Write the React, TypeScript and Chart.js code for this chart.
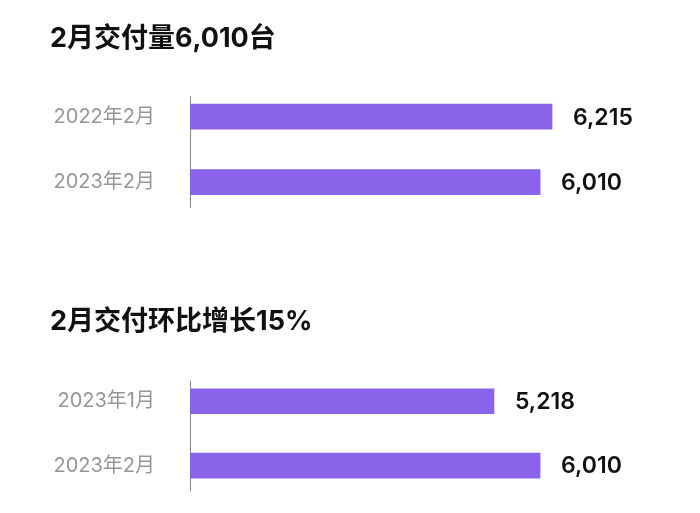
import { useEffect, useRef } from 'react';
import { Chart, registerables } from 'chart.js';

Chart.register(...registerables);

// chart 1: February deliveries, year over year
const deliveryTitle = '2月交付量6,010台';
const deliveryLabels = ['2022年2月', '2023年2月'];
const deliveryValues = [6215, 6010];

// chart 2: February deliveries, month over month
const momTitle = '2月交付环比增长15%';
const momLabels = ['2023年1月', '2023年2月'];
const momValues = [5218, 6010];

const FONT = "Inter, 'Noto Sans CJK SC', sans-serif";
const BAR_COLOR = '#8b62ea';

// draws the value to the right of each bar
const valueLabels = {
  id: 'valueLabels',
  afterDatasetsDraw(chart: any) {
    const { ctx } = chart;
    const meta = chart.getDatasetMeta(0);
    ctx.save();
    ctx.font = `600 23px ${FONT}`;
    ctx.fillStyle = '#111111';
    ctx.textAlign = 'left';
    ctx.textBaseline = 'middle';
    meta.data.forEach((bar: any, i: number) => {
      const v = chart.data.datasets[0].data[i].x as number;
      ctx.fillText(v.toLocaleString('en-US'), bar.x + 21, bar.y + 1);
    });
    ctx.restore();
  }
};

type Props = {
  title: string;
  labels: string[];
  values: number[];
  height: number;
  padTop: number;
  titleGap: number;
  padBottom: number;
};

function BarBlock({ title, labels, values, height, padTop, titleGap, padBottom }: Props) {
  const chartRef = useRef<HTMLCanvasElement>(null);
  const chartInstanceRef = useRef<Chart | null>(null);

  useEffect(() => {
    if (!chartRef.current) return;
    const ctx = chartRef.current.getContext('2d');
    if (!ctx) return;

    if (chartInstanceRef.current) {
      chartInstanceRef.current.destroy();
    }

    chartInstanceRef.current = new Chart(ctx, {
      type: 'bar',
      data: {
        datasets: [{
          data: values.map((v, i) => ({ x: v, y: i })),
          backgroundColor: BAR_COLOR,
          borderWidth: 0,
          barThickness: 25
        }]
      },
      options: {
        indexAxis: 'y',
        animation: false,
        responsive: true,
        maintainAspectRatio: false,
        layout: { padding: { top: padTop, left: 50, right: 44, bottom: padBottom } },
        plugins: {
          legend: { display: false },
          tooltip: { enabled: false },
          title: {
            display: true,
            text: title,
            align: 'start',
            color: '#111111',
            font: { size: 27, weight: 'bold', family: FONT, lineHeight: 1.2 },
            padding: { top: 0, bottom: titleGap }
          }
        },
        scales: {
          x: { display: false, min: 0, max: 8000 },
          y: {
            type: 'linear',
            reverse: true,
            offset: false,
            min: -0.3,
            max: 1.38,
            grid: { display: false, drawTicks: false },
            border: { display: true, color: '#8a8a8a', width: 1 },
            afterBuildTicks: (scale: any) => {
              scale.ticks = labels.map((_, i) => ({ value: i }));
            },
            afterFit: (scale: any) => {
              // fixed label column; the labels sit well inside the plot height
              scale.width = 140;
              scale.paddingTop = 0;
              scale.paddingBottom = 0;
            },
            ticks: {
              padding: 35,
              color: '#969696',
              font: { size: 20, family: FONT },
              callback: (v: any) => labels[v as number] ?? ''
            }
          }
        }
      } as any,
      plugins: [valueLabels]
    });

    return () => {
      if (chartInstanceRef.current) {
        chartInstanceRef.current.destroy();
        chartInstanceRef.current = null;
      }
    };
  }, [title, labels, values, padTop, titleGap, padBottom]);

  return (
    <div style={{ position: 'relative', width: 700, height }}>
      <canvas ref={chartRef} />
    </div>
  );
}

export default function App() {
  return (
    <div style={{ position: 'fixed', top: 0, left: 0, width: 700, height: 513, background: '#ffffff' }}>
      <BarBlock
        title={deliveryTitle}
        labels={deliveryLabels}
        values={deliveryValues}
        height={260}
        padTop={22.8}
        titleGap={41.8}
        padBottom={53}
      />
      <BarBlock
        title={momTitle}
        labels={momLabels}
        values={momValues}
        height={253}
        padTop={45.8}
        titleGap={43.8}
        padBottom={23}
      />
    </div>
  );
}
